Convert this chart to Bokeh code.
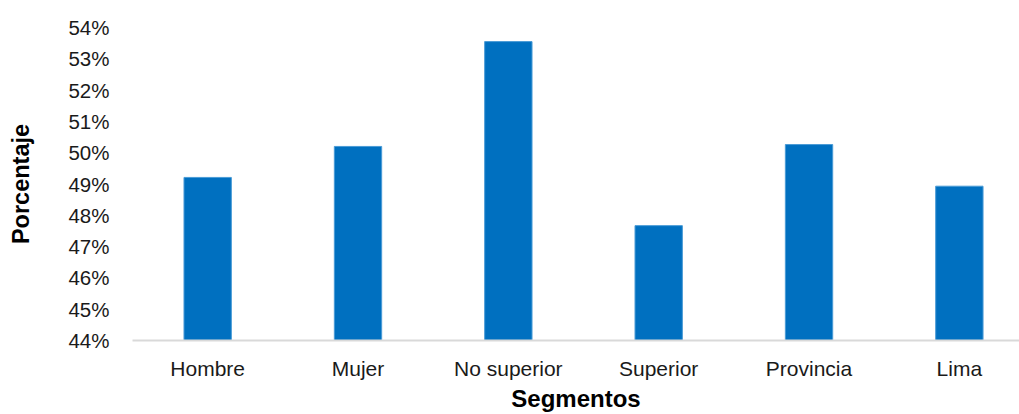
from bokeh.plotting import figure
from bokeh.models import ColumnDataSource, FixedTicker, NumeralTickFormatter, Range1d
from bokeh.embed import file_html
from bokeh.resources import INLINE

categories = ["Hombre", "Mujer", "No superior", "Superior", "Provincia", "Lima"]
values = [0.4921, 0.5020, 0.5355, 0.4767, 0.5026, 0.4893]
y_ticks = [0.44, 0.45, 0.46, 0.47, 0.48, 0.49, 0.50, 0.51, 0.52, 0.53, 0.54]
x_title = "Segmentos"
y_title = "Porcentaje"

xs = list(range(len(categories)))
src = ColumnDataSource(dict(x=xs, top=values))

p = figure(width=1019, height=414, output_backend="svg", toolbar_location=None,
           x_range=Range1d(-0.5, 5.40), y_range=Range1d(0.44, 0.54),
           min_border_left=132, min_border_top=27, min_border_bottom=71, min_border_right=0)
p.outline_line_color = None
p.background_fill_color = "white"
p.border_fill_color = "white"
p.xgrid.visible = False
p.ygrid.visible = False

p.vbar(x="x", top="top", bottom=0.44, width=0.315, source=src,
       fill_color="#0070C0", line_color="#4A9BD6", line_width=1)

font = "Liberation Sans"
p.yaxis.ticker = FixedTicker(ticks=y_ticks)
p.yaxis.formatter = NumeralTickFormatter(format="0%")
p.yaxis.axis_line_color = None
p.yaxis.major_tick_line_color = None
p.yaxis.minor_tick_line_color = None
p.yaxis.major_label_text_font = font
p.yaxis.major_label_text_font_size = "20.5px"
p.yaxis.major_label_text_color = "#1a1a1a"
p.yaxis.major_label_standoff = 17
p.yaxis.axis_label = y_title
p.yaxis.axis_label_text_font = font
p.yaxis.axis_label_text_font_style = "bold"
p.yaxis.axis_label_text_font_size = "23.5px"
p.yaxis.axis_label_text_color = "black"
p.yaxis.axis_label_standoff = 31

p.xaxis.ticker = FixedTicker(ticks=xs)
p.xaxis.major_label_overrides = {i: c for i, c in enumerate(categories)}
p.xaxis.axis_line_color = "#D9D9D9"
p.xaxis.axis_line_width = 2
p.xaxis.major_tick_line_color = None
p.xaxis.minor_tick_line_color = None
p.xaxis.major_label_text_font = font
p.xaxis.major_label_text_font_size = "21px"
p.xaxis.major_label_text_color = "#1a1a1a"
p.xaxis.major_label_standoff = 10
p.xaxis.axis_label = x_title
p.xaxis.axis_label_text_font = font
p.xaxis.axis_label_text_font_style = "bold"
p.xaxis.axis_label_text_font_size = "24px"
p.xaxis.axis_label_text_color = "black"
p.xaxis.axis_label_standoff = 2

open("out.html", "w").write(file_html(p, INLINE))
